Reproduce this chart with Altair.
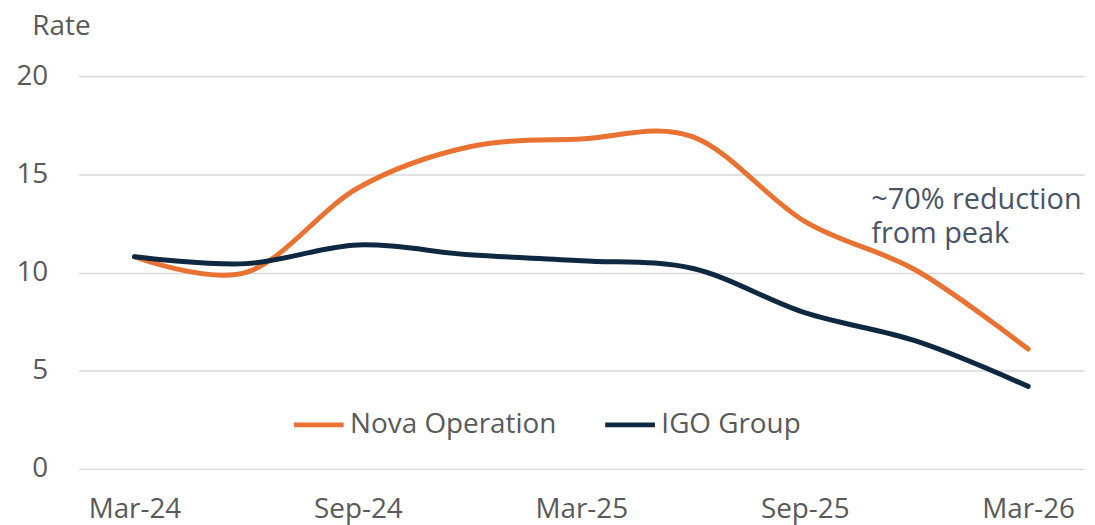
import altair as alt
import pandas as pd

# ---- data ----
periods = ["Mar-24", "Jun-24", "Sep-24", "Dec-24", "Mar-25", "Jun-25", "Sep-25", "Dec-25", "Mar-26"]
nova_operation = [10.8, 10.0, 14.3, 16.4, 16.8, 16.9, 12.6, 10.1, 6.1]
igo_group = [10.8, 10.45, 11.4, 10.9, 10.6, 10.2, 7.95, 6.5, 4.2]
series_names = ["Nova Operation", "IGO Group"]
series_colors = ["#E97132", "#0E2841"]
x_tick_labels = ["Mar-24", "Sep-24", "Mar-25", "Sep-25", "Mar-26"]
y_ticks = [0, 5, 10, 15, 20]
annotation_lines = ["~70% reduction", "from peak"]
y_title = "Rate"

rows = []
for p, v in zip(periods, nova_operation):
    rows.append({"period": p, "series": series_names[0], "value": v})
for p, v in zip(periods, igo_group):
    rows.append({"period": p, "series": series_names[1], "value": v})
df = pd.DataFrame(rows)

FONT = "Open Sans"
GRAY = "#595959"

x_enc = alt.X(
    "period:N",
    sort=periods,
    scale=alt.Scale(type="point", padding=0.5),
    axis=alt.Axis(
        values=x_tick_labels,
        title=None,
        labelAngle=0,
        ticks=False,
        tickSize=0,
        domain=False,
        grid=False,
        labelFont=FONT,
        labelFontSize=28,
        labelColor=GRAY,
        labelBaseline="alphabetic",
        labelPadding=49,
    ),
)
y_enc = alt.Y(
    "value:Q",
    scale=alt.Scale(domain=[0, 20], nice=False, zero=True),
    axis=alt.Axis(
        values=y_ticks,
        title=y_title,
        titleAngle=0,
        titleAlign="left",
        titleBaseline="alphabetic",
        titleX=-47,
        titleY=-42,
        titleFont=FONT,
        titleFontSize=28,
        titleFontWeight="normal",
        titleColor=GRAY,
        ticks=False,
        tickSize=0,
        domain=False,
        grid=True,
        gridColor="#D9D9D9",
        gridWidth=1.5,
        labelFont=FONT,
        labelFontSize=28,
        labelColor=GRAY,
        labelPadding=31,
    ),
)
color_enc = alt.Color(
    "series:N",
    sort=series_names,
    scale=alt.Scale(domain=series_names, range=series_colors),
    legend=alt.Legend(
        orient="none",
        legendX=214,
        legendY=323,
        direction="horizontal",
        title=None,
        symbolType="stroke",
        symbolSize=2500,
        symbolStrokeWidth=5,
        labelFont=FONT,
        labelFontSize=28,
        labelColor=GRAY,
        labelOffset=4,
        labelLimit=0,
        columnPadding=38,
        padding=0,
    ),
)

base = alt.Chart(df)
line_nova = base.transform_filter(alt.datum.series == series_names[0]).mark_line(
    interpolate="cardinal", tension=0, strokeWidth=5, strokeCap="round"
).encode(x=x_enc, y=y_enc, color=color_enc)
line_igo = base.transform_filter(alt.datum.series == series_names[1]).mark_line(
    interpolate="cardinal", tension=0, strokeWidth=5, strokeCap="round"
).encode(x=x_enc, y=y_enc, color=color_enc)

annot = alt.Chart(pd.DataFrame({"a": [0]})).mark_text(
    text=annotation_lines,
    align="left",
    baseline="alphabetic",
    lineHeight=34,
    font=FONT,
    fontSize=29,
    color="#475467",
).encode(x=alt.value(797), y=alt.value(134))

chart = alt.layer(line_nova, line_igo, annot).properties(
    width=1011,
    height=395,
    background="white",
    autosize=alt.AutoSizeParams(type="none"),
    padding={"left": 71, "top": 67, "right": 3, "bottom": 55},
).configure_view(stroke=None)

chart.save("out.html", embed_options={"renderer": "svg", "actions": False})
